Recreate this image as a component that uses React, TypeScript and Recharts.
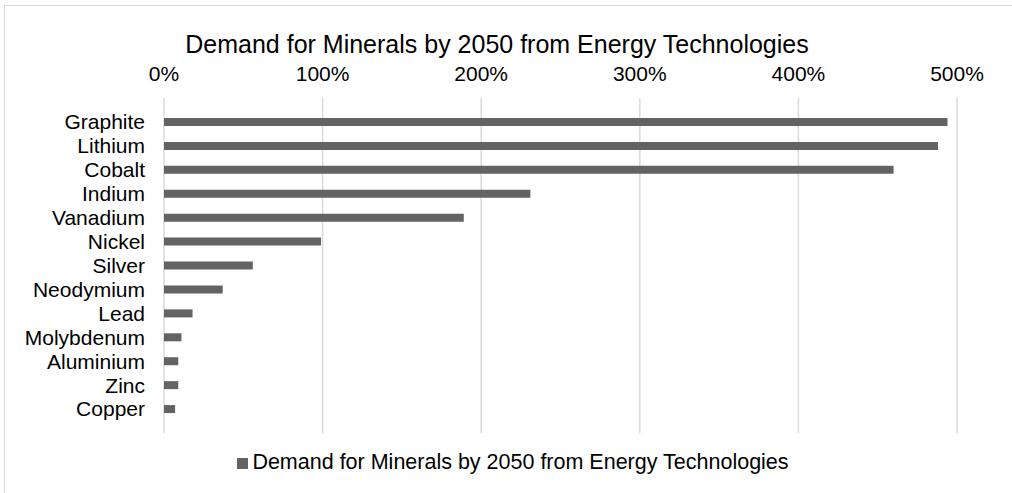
import React from 'react';
import { BarChart, Bar, XAxis, YAxis, CartesianGrid, Legend } from 'recharts';

const minerals = [
  'Graphite',
  'Lithium',
  'Cobalt',
  'Indium',
  'Vanadium',
  'Nickel',
  'Silver',
  'Neodymium',
  'Lead',
  'Molybdenum',
  'Aluminium',
  'Zinc',
  'Copper',
];

// percent increase in demand by 2050
const demandPct = [494, 488, 460, 231, 189, 99, 56, 37, 18, 11, 9, 9, 7];

const pctTicks = [0, 100, 200, 300, 400, 500];

const SERIES_NAME = 'Demand for Minerals by 2050 from Energy Technologies';
const FONT = '"Liberation Sans", Arial, sans-serif';

const data = minerals.map((name, i) => ({ name, value: demandPct[i] }));

const App: React.FC = () => {
  return (
    <div
      style={{
        position: 'absolute',
        left: 0,
        top: 0,
        width: 1012,
        height: 493,
        background: '#ffffff',
        overflow: 'hidden',
        fontFamily: FONT,
      }}
    >
      <div
        style={{
          position: 'absolute',
          left: 4,
          top: 5,
          width: 1012,
          height: 492,
          border: '1px solid #d9d9d9',
          boxSizing: 'border-box',
        }}
      />
      <div
        style={{
          position: 'absolute',
          left: 0,
          top: 30,
          width: 994,
          textAlign: 'center',
          fontSize: 25,
          color: '#000',
          lineHeight: '29px',
        }}
      >
        {SERIES_NAME}
      </div>
      <BarChart
        width={1012}
        height={493}
        data={data}
        layout="vertical"
        margin={{ top: 68, right: 55, bottom: 35, left: 0 }}
        style={{ position: 'absolute', left: 0, top: 0 }}
      >
        <CartesianGrid horizontal={false} stroke="#d9d9d9" strokeWidth={1.5} />
        <XAxis
          type="number"
          orientation="top"
          domain={[0, 500]}
          ticks={pctTicks}
          tickFormatter={(v: number) => `${v}%`}
          axisLine={false}
          tickLine={false}
          tickSize={0}
          tickMargin={17}
          height={30}
          tick={{ fill: '#000', fontSize: 21, fontFamily: FONT }}
        />
        <YAxis
          type="category"
          dataKey="name"
          width={164}
          axisLine={false}
          tickLine={false}
          tickSize={0}
          tickMargin={19}
          padding={{ top: 12, bottom: 12 }}
          interval={0}
          tick={{ fill: '#000', fontSize: 21, fontFamily: FONT }}
        />
        <Legend
          iconType="square"
          iconSize={11}
          wrapperStyle={{
            left: 12,
            top: 450,
            bottom: 'auto',
            width: 1012,
            fontSize: 21.5,
            fontFamily: FONT,
            color: '#000',
          }}
          formatter={(value: string) => <span style={{ color: '#000' }}>{value}</span>}
        />
        <Bar
          dataKey="value"
          name={SERIES_NAME}
          fill="#636363"
          barSize={8}
          isAnimationActive={false}
        />
      </BarChart>
    </div>
  );
};

export default App;
